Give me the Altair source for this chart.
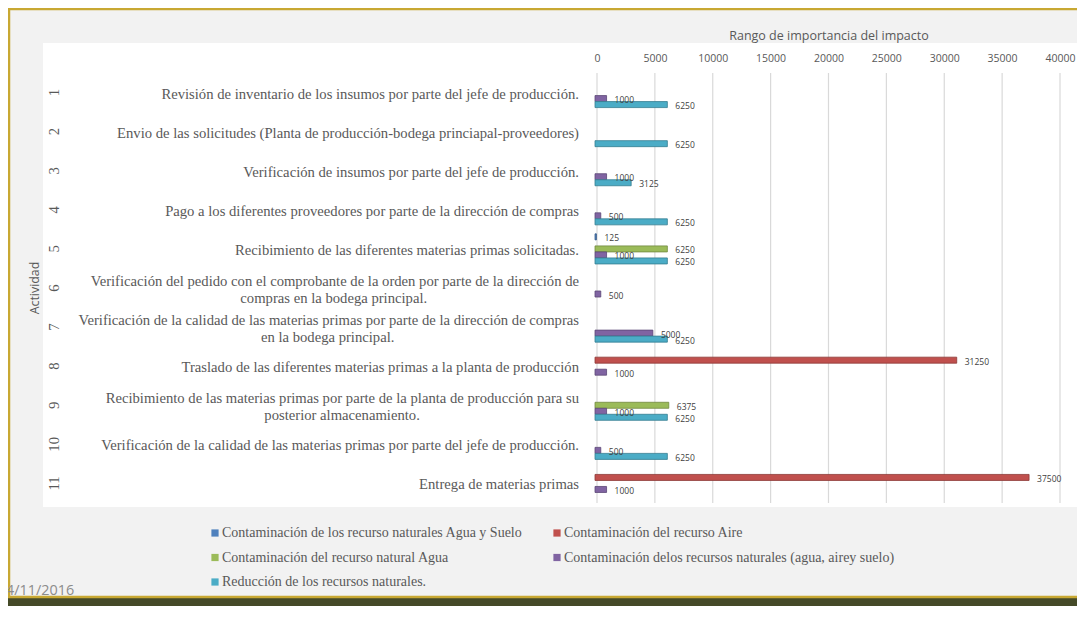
import altair as alt
import pandas as pd

# ---------------- data ----------------
activities = [
    "Revisión de inventario de los insumos por parte del jefe de producción.",
    "Envio de las solicitudes (Planta de producción-bodega princiapal-proveedores)",
    "Verificación de insumos por parte del jefe de producción.",
    "Pago a los diferentes proveedores por parte de la dirección de compras",
    "Recibimiento de las diferentes materias primas solicitadas.",
    "Verificación del pedido con el comprobante de la orden por parte de la dirección de|compras en la bodega principal.",
    "Verificación de la calidad de las materias primas por parte de la dirección de compras|en la bodega principal.",
    "Traslado de las diferentes materias primas a la planta de producción",
    "Recibimiento de las materias primas por parte de la planta de producción para su|posterior almacenamiento.",
    "Verificación de la calidad de las materias primas por parte del jefe de producción.",
    "Entrega de materias primas",
]
nums = [str(i) for i in range(1, 12)]

series_names = [
    "Contaminación de los recurso naturales Agua y Suelo",
    "Contaminación del recurso Aire",
    "Contaminación del recurso natural Agua",
    "Contaminación delos recursos naturales (agua, airey suelo)",
    "Reducción de los recursos naturales.",
]
agua_suelo = [None, None, None, None, 125, None, None, None, None, None, None]
aire = [None, None, None, None, None, None, None, 31250, None, None, 37500]
agua = [None, None, None, None, 6250, None, None, None, 6375, None, None]
combinado = [1000, None, 1000, 500, 1000, 500, 5000, 1000, 1000, 500, 1000]
reduccion = [6250, 6250, 3125, 6250, 6250, None, 6250, None, 6250, 6250, None]

x_ticks = [0, 5000, 10000, 15000, 20000, 25000, 30000, 35000, 40000]

colors = ["#4f81bd", "#c0504d", "#9bbb59", "#8064a2", "#4bacc6"]
strokes = ["#385d8a", "#8c3836", "#71893f", "#5c4776", "#357d91"]

# legend is filled column by column: order entries so rows read like the original
legend_order = [0, 2, 4, 1, 3]
color_domain = [series_names[i] for i in legend_order]
color_range = [colors[i] for i in legend_order]

# ---------------- tables ----------------
rows = []
for name, vals in zip(series_names, [agua_suelo, aire, agua, combinado, reduccion]):
    for n, v in zip(nums, vals):
        if v is not None:
            rows.append({"num": n, "serie": name, "value": v})
bars_df = pd.DataFrame(rows)

# approximate Times New Roman advance widths (1/1000 em) to centre wrapped lines
TW = {" ": 250, "(": 333, ")": 333, ",": 250, "-": 333, ".": 250,
      "A": 722, "E": 611, "P": 556, "R": 667, "T": 611, "V": 722,
      "a": 444, "b": 500, "c": 444, "d": 500, "e": 444, "f": 333, "g": 500,
      "h": 500, "i": 278, "j": 278, "l": 278, "m": 778, "n": 500, "o": 500,
      "p": 500, "q": 500, "r": 333, "s": 389, "t": 278, "u": 500, "v": 500,
      "y": 500, "z": 444, "ó": 500, "í": 278, "á": 444, "é": 444, "ú": 500}
LBL_SIZE = 14.67
LBL_RIGHT = -18


def text_w(s):
    return sum(TW.get(ch, 500) for ch in s) * LBL_SIZE / 1000.0


lab_rows = []
for n, a in zip(nums, activities):
    parts = a.split("|")
    l1 = parts[0]
    l2 = parts[1] if len(parts) > 1 else ""
    lab_rows.append({"num": n, "line1": l1, "line2": l2,
                     "two": len(parts) > 1,
                     "cx": LBL_RIGHT - text_w(l1) / 2.0})
lab_df = pd.DataFrame(lab_rows)
single_df = lab_df[~lab_df["two"]]
double_df = lab_df[lab_df["two"]]

ticks_df = pd.DataFrame({"value": x_ticks})
one = pd.DataFrame({"a": [0]})

W, H = 463, 430

xaxis = alt.Axis(orient="top", values=x_ticks, grid=False, ticks=False, domain=False,
                 labelFont="Open Sans", labelFontSize=10.5, labelColor="#595959",
                 labelPadding=10, title="Rango de importancia del impacto",
                 titleFont="Open Sans", titleFontSize=12.5, titleFontWeight="normal",
                 titleColor="#595959", titlePadding=11, format="d", labelFlush=False,
                 zindex=3)
xscale = alt.Scale(domain=[0, 40000], nice=False, zero=True)
yscale = alt.Scale(domain=nums, paddingInner=0, paddingOuter=0)
yoff = alt.YOffset("serie:N", scale=alt.Scale(domain=series_names,
                                              paddingInner=0.0, paddingOuter=0.75))

# ---------------- decoration ----------------
olive = alt.Chart(one).mark_rect(fill="#454a28").encode(
    x=alt.value(-600), x2=alt.value(490), y=alt.value(524), y2=alt.value(560))
frame = alt.Chart(one).mark_rect(fill="#f2f2f2", stroke="#c8a832", strokeWidth=2.5).encode(
    x=alt.value(-588), x2=alt.value(490), y=alt.value(-64), y2=alt.value(524))
white = alt.Chart(one).mark_rect(fill="#ffffff").encode(
    x=alt.value(-554), x2=alt.value(490), y=alt.value(-30), y2=alt.value(434))

grid = alt.Chart(ticks_df).mark_rule(color="#d9d9d9", strokeWidth=1.2).encode(
    x=alt.X("value:Q", scale=xscale, axis=xaxis))

bars = alt.Chart(bars_df).mark_bar(strokeWidth=0.8, xOffset=-2, x2Offset=-3).encode(
    y=alt.Y("num:N", scale=yscale, axis=None),
    yOffset=yoff,
    x=alt.X("value:Q", scale=xscale, axis=xaxis),
    color=alt.Color("serie:N", scale=alt.Scale(domain=color_domain, range=color_range),
                    legend=alt.Legend(title=None, orient="none", legendX=-389, legendY=453,
                                      columns=2, columnPadding=27, rowPadding=10.5,
                                      symbolType="square", symbolSize=52,
                                      symbolStrokeWidth=0, labelFont="Liberation Serif",
                                      labelFontSize=14, labelColor="#595959",
                                      labelOffset=0, padding=0, labelLimit=0)),
    stroke=alt.Stroke("serie:N", scale=alt.Scale(domain=series_names, range=strokes),
                      legend=None),
)

values = alt.Chart(bars_df).mark_text(align="left", baseline="middle", dx=6, dy=1.5,
                                      font="Open Sans", fontSize=8.5, color="#404040").encode(
    y=alt.Y("num:N", scale=yscale, axis=None),
    yOffset=yoff,
    x=alt.X("value:Q", scale=xscale, axis=xaxis),
    text=alt.Text("value:Q", format="d"),
)

lbl_style = dict(font="Liberation Serif", fontSize=LBL_SIZE, color="#595959", baseline="middle")
single = alt.Chart(single_df).mark_text(align="right", dy=2, **lbl_style).encode(
    y=alt.Y("num:N", scale=yscale, axis=None), x=alt.value(LBL_RIGHT), text="line1:N")
dbl1 = alt.Chart(double_df).mark_text(align="right", dy=-6.5, **lbl_style).encode(
    y=alt.Y("num:N", scale=yscale, axis=None), x=alt.value(LBL_RIGHT), text="line1:N")
dbl2 = alt.Chart(double_df).mark_text(align="center", dy=10.5, **lbl_style).encode(
    y=alt.Y("num:N", scale=yscale, axis=None),
    x=alt.X("cx:Q", scale=None, axis=None), text="line2:N")

numbers = alt.Chart(lab_df).mark_text(angle=270, **lbl_style).encode(
    y=alt.Y("num:N", scale=yscale, axis=None), x=alt.value(-542), text="num:N")

ytitle = alt.Chart(one).mark_text(text="Actividad", angle=270, font="Open Sans",
                                  fontSize=12.4, color="#595959", baseline="middle").encode(
    x=alt.value(-562), y=alt.value(215))

date = alt.Chart(one).mark_text(text="4/11/2016", align="left", baseline="middle",
                                font="Open Sans", fontSize=14.4, color="#8c8c8c").encode(
    x=alt.value(-591), y=alt.value(518))

chart = alt.layer(
    olive, frame, white, grid, bars, values, single, dbl1, dbl2, numbers, ytitle, date
).resolve_scale(x="shared").properties(
    width=W, height=H,
    padding={"left": 589, "top": 65, "right": 17, "bottom": 103},
    autosize=alt.AutoSizeParams(type="none"),
).configure(background="#ffffff").configure_view(stroke=None).configure_axis(zindex=3)

chart.save("out.html", embed_options={"renderer": "svg", "actions": False})
